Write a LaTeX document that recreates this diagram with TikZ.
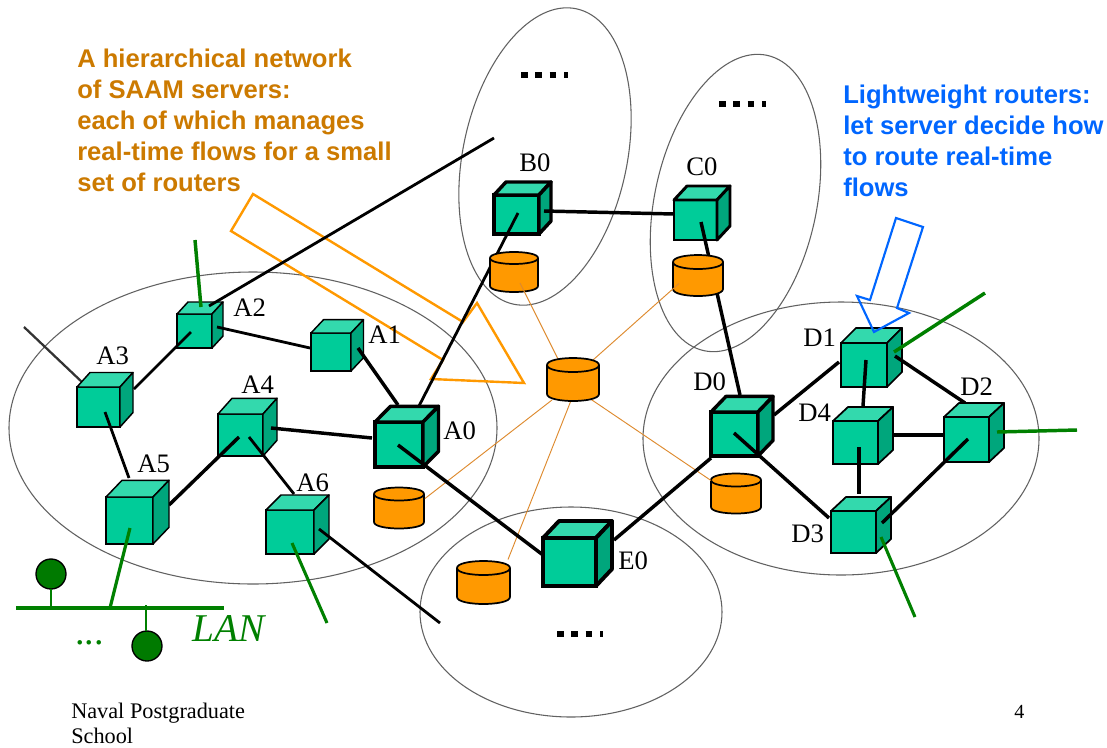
\documentclass[tikz,border=0pt]{standalone}
\usepackage{fontspec}
\setmainfont{Liberation Serif}
\newfontfamily\arialfont{Liberation Sans}
\usetikzlibrary{calc}
\definecolor{cubefront}{HTML}{00CC99}
\definecolor{cubetop}{HTML}{33D9AD}
\definecolor{cubeside}{HTML}{00A67C}
\definecolor{srvorange}{HTML}{FF9900}
\definecolor{noteorange}{HTML}{CC7A00}
\definecolor{noteblue}{HTML}{0066FF}
\definecolor{netgreen}{HTML}{008000}
\definecolor{thinorange}{HTML}{DE8A2E}
\definecolor{hostgreen}{HTML}{007A00}
\tikzset{
  domainring/.style={draw=black!62,line width=0.8pt},
  link/.style={draw=black,line width=2.1pt},
  linkthick/.style={draw=black,line width=2.6pt},
  greenlink/.style={draw=netgreen,line width=2.6pt},
  serverlink/.style={draw=thinorange,line width=0.7pt},
  cubeface/.style={rectangle,draw=black,fill=cubefront,outer sep=0pt,inner sep=0pt},
  cylbox/.style={rectangle,outer sep=0pt,inner sep=0pt},
  routerlabel/.style={anchor=base west,inner sep=0pt,font=\fontsize{20}{23}\selectfont},
  morenodes/.style={line width=4.6pt,dash pattern=on 4.9pt off 5.85pt},
  notetext/.style={anchor=north west,inner sep=0pt,align=left,font=\arialfont\bfseries\fontsize{19.2}{23.1}\selectfont},
  foottext/.style={anchor=north west,inner sep=0pt,align=left,font=\fontsize{16.7}{18.8}\selectfont},
  hostdot/.style={circle,draw=black,fill=hostgreen,line width=1pt,minimum size=22.5pt,inner sep=0pt,outer sep=0pt},
}
% name, x1, y1, x2, y2, dx, dy, line width
\newcommand{\routercube}[8]{%
  \node[cubeface,line width=#8,minimum width={(#4-#2)*0.75pt},minimum height={(#5-#3)*0.75pt}] (#1) at ({(#2+#4)/2},{(#3+#5)/2}) {};
  \draw[fill=cubetop,line width=#8,line join=round] (#1.north west) -- ++(#6,-#7) -- ++({#4-#2},0) -- (#1.north east) -- cycle;
  \draw[fill=cubeside,line width=#8,line join=round] (#1.north east) -- ++(#6,-#7) -- ++(0,{#5-#3}) -- (#1.south east) -- cycle;
}
% name, cx, ytop, ybottom, rx, ry
\newcommand{\servercyl}[6]{%
  \node[cylbox,minimum width={2*#5*0.75pt},minimum height={(#4-#3+2*#6)*0.75pt}] (#1) at (#2,{(#3+#4)/2}) {};
  \draw[fill=srvorange,line width=1.3pt] ({#2-#5},#3) -- ({#2-#5},#4) .. controls ({#2-#5},{#4+1.33*#6}) and ({#2+#5},{#4+1.33*#6}) .. ({#2+#5},#4) -- ({#2+#5},#3)
    .. controls ({#2+#5},{#3-1.33*#6}) and ({#2-#5},{#3-1.33*#6}) .. ({#2-#5},#3) -- cycle;
  \draw[line width=1.3pt] ({#2-#5},#3) .. controls ({#2-#5},{#3+1.33*#6}) and ({#2+#5},{#3+1.33*#6}) .. ({#2+#5},#3);
}
\begin{document}
\begin{tikzpicture}[x=0.75pt,y=-0.75pt]
\useasboundingbox[fill=white] (0,0) rectangle (1107,747);
% domains
\draw[domainring] (253,428) ellipse [x radius=244,y radius=156];
\draw[domainring,rotate around={-12:(545,156.5)}] (545,156.5) ellipse [x radius=82,y radius=151];
\draw[domainring,rotate around={-12:(735.5,203)}] (735.5,203) ellipse [x radius=81,y radius=151];
\draw[domainring] (841,438.5) ellipse [x radius=198,y radius=136.5];
\draw[domainring] (571,612) ellipse [x radius=151,y radius=105];
% callout
\draw[draw=srvorange,line width=1.8pt] (253,194) -- (463,322) -- (477,303) -- (524,383) -- (431,379) -- (443,360) -- (231,231) -- cycle;
% continuation marks
\draw[morenodes] (521,75) -- (567.5,75);
\draw[morenodes] (719,104) -- (765.5,104);
\draw[morenodes] (557,634) -- (602.5,634);
% free ends and ports of the cubes still to come
\coordinate (a2far) at (494,138);
\coordinate (a2up) at (195,240);
\coordinate (a3far) at (24,327);
\coordinate (a3corner) at (83,383);
\coordinate (a3side) at (134,389);
\coordinate (a6down) at (327,623);
\coordinate (a6far) at (440,623);
\coordinate (d1far) at (985,293);
\coordinate (d2far) at (1077,430);
\coordinate (d3far) at (915,617);
% cubes and links, back to front
\routercube{A2}{177}{314}{212}{348}{11}{12}{1.1pt}
\draw[link] ($(A2)+(14.5,-25)$) -- (a2far);
\draw[greenlink] ($(A2)+(6.5,-24)$) -- (a2up);
\draw[draw=black!80,line width=1.7pt] (a3far) -- (a3corner);
\draw[link] (a3side) -- ($(A2)+(-3.5,1)$);
\routercube{A3}{77}{387}{120}{427}{13}{14.5}{1.1pt}
\routercube{A4}{218}{414}{263}{456}{14}{15.7}{1.1pt}
\draw[link] ($(A2)+(22.5,-4)$) -- ($(A2)+(115.5,17)$);
\routercube{A1}{311}{333}{351}{371}{12.5}{13.3}{1.1pt}
\routercube{B0}{494}{195}{539}{234}{12}{13}{2.6pt}
\draw[linkthick] ($(B0)+(27.5,-3.5)$) -- ($(B0)+(157.5,-0.5)$);
\routercube{C0}{674}{200}{717}{240}{13}{14}{2.2pt}
\draw[link] ($(A3)+(6.5,5)$) -- ($(A3)+(30.5,71)$);
\draw[linkthick] ($(A4)+(-1.5,2)$) -- ($(A4)+(-71.5,70)$);
\draw[link] ($(A4)+(8.5,2)$) -- ($(A4)+(53.5,59)$);
\routercube{A5}{106}{497}{153}{544}{16}{16.7}{1.1pt}
\routercube{A6}{266}{510}{314}{554}{15}{15}{1.1pt}
\draw[linkthick] ($(A1)+(27,-4)$) -- ($(A1)+(67,53)$);
\draw[link] ($(B0)+(1.5,-1.5)$) -- ($(B0)+(-97.5,191.5)$);
\draw[linkthick] ($(A4)+(30.5,-7)$) -- ($(A4)+(131.5,3)$);
\routercube{A0}{375}{422}{423}{467}{15.5}{15.7}{2.6pt}
\draw[link] ($(A6)+(29,-3)$) -- (a6far);
% servers
\servercyl{SB}{514}{258}{286}{24}{6}
\servercyl{SA}{399}{494}{522}{25}{6.5}
\draw[linkthick] ($(C0)+(5.5,2)$) -- ($(C0)+(44.5,175)$);
\servercyl{SC}{698}{262}{289}{25}{7}
\servercyl{SD}{736}{480}{507}{25}{6.5}
\servercyl{SE}{483.5}{568}{597}{26.5}{7}
\node[cylbox,minimum width=39pt,minimum height=32pt] (S0) at (573,380) {};
\draw[serverlink] ($(S0)+(-15,-21)$) -- ($(SB)+(6,11)$);
\draw[serverlink] ($(S0)+(20,-20)$) -- ($(SC)+(-19,8)$);
\draw[serverlink] ($(S0)+(-21,20)$) -- ($(SA)+(26,-9.5)$);
\draw[serverlink] ($(S0)+(-1,18)$) -- ($(SE)+(24.5,-23)$);
\draw[serverlink] ($(S0)+(16,18)$) -- ($(SD)+(-25,-13)$);
\servercyl{SM}{573}{365}{394}{26}{7}
% E0, D cluster
\draw[linkthick] ($(A0)+(-1,0.5)$) -- (543,555);
\routercube{E0}{543}{538}{596}{586}{16}{17}{2.9pt}
\draw[linkthick] ($(E0)+(44.5,-22)$) -- (711,458);
\draw[linkthick] (774,415) -- (839,362);
\routercube{D0}{711}{412}{758}{456}{15}{15.6}{2.6pt}
\routercube{D1}{841}{343}{887}{387}{15}{15}{1.3pt}
\draw[linkthick] ($(D1)+(2,-5)$) -- (863,406);
\draw[linkthick] ($(D1)+(31,-9)$) -- (965,403);
\draw[linkthick] (892,435) -- (943,435);
\routercube{D4}{833}{421}{878}{464}{15}{14}{1.3pt}
\routercube{D2}{944}{417}{989}{462}{15}{14}{1.3pt}
\draw[linkthick] ($(D4)+(3.5,4.5)$) -- ($(D4)+(3.5,51.5)$);
\draw[linkthick] ($(D0)+(-0.5,-1)$) -- (829,518);
\routercube{D3}{831}{511}{876}{553}{15}{14}{1.3pt}
\draw[linkthick] ($(D2)+(1.5,-0.5)$) -- ($(D3)+(28.5,-9)$);
\draw[greenlink] ($(D1)+(30,-13)$) -- (d1far);
\draw[greenlink] ($(D2)+(30.5,-7.5)$) -- (d2far);
\draw[draw=netgreen,line width=2.3pt] ($(D3)+(27.5,5)$) -- (d3far);
\draw[draw=netgreen,line width=2.3pt] ($(A6)+(2,11)$) -- (a6down);
% LAN
\node[rectangle,fill=netgreen,minimum width=156pt,minimum height=3pt,inner sep=0pt,outer sep=0pt] (lan) at (120,608) {};
\node[hostdot] (h1) at (51,574) {};
\node[hostdot] (h2) at (147,646) {};
\draw[draw=netgreen,line width=1pt] (h1.south) -- (h1.south |- lan.north);
\draw[draw=netgreen,line width=1pt] ($(h2.north)+(-1,0)$) -- ($(h2.north)+(-1,-26)$);
\draw[draw=netgreen,line width=2.4pt] ($(A5)+(0.5,7.5)$) -- ($(lan)+(-10,0)$);
\node[anchor=base west,inner sep=0pt,text=netgreen,font=\fontsize{29.5}{30}\selectfont\itshape] (lanlabel) at (192,641) {LAN};
\node[anchor=base west,inner sep=0pt,text=netgreen,font=\fontsize{28.5}{30}\selectfont] (landots) at (75,644) {...};
% arrow callout
\draw[draw=noteblue,line width=1.6pt] (896,218) -- (923,227) -- (897,308) -- (909,313) -- (874,332) -- (857,296) -- (870,300) -- cycle;
% labels
\node[routerlabel] (lA0) at (443,439) {A0};
\node[routerlabel] (lA1) at (368,343) {A1};
\node[routerlabel] (lA2) at (233,316) {A2};
\node[routerlabel] (lA3) at (96,364) {A3};
\node[routerlabel] (lA4) at (241,393) {A4};
\node[routerlabel] (lA5) at (137,472) {A5};
\node[routerlabel] (lA6) at (296,491) {A6};
\node[routerlabel] (lB0) at (519,171) {B0};
\node[routerlabel] (lC0) at (686,175) {C0};
\node[routerlabel] (lD0) at (693,390) {D0};
\node[routerlabel] (lD1) at (803,346) {D1};
\node[routerlabel] (lD2) at (960,395) {D2};
\node[routerlabel] (lD3) at (791,542) {D3};
\node[routerlabel] (lD4) at (798,421) {D4};
\node[routerlabel] (lE0) at (618,569) {E0};
\node[notetext,text=noteorange] (noteA) at (77,49) {A hierarchical network\\of SAAM servers:\\each of which manages\\real-time flows for a small\\set of routers};
\node[notetext,text=noteblue] (noteB) at (843,85) {Lightweight routers:\\let server decide how\\to route real-time\\flows};
\node[foottext] (foot) at (71,703) {Naval Postgraduate\\School};
\node[anchor=base west,inner sep=0pt,font=\fontsize{15}{18}\selectfont] (pageno) at (1014,718) {4};
\end{tikzpicture}
\end{document}
